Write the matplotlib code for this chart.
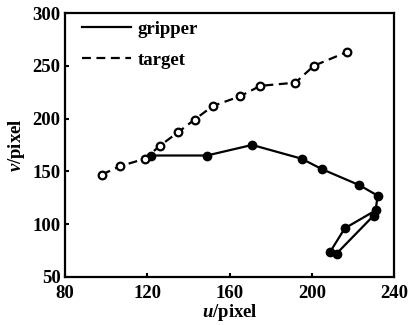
import numpy as np
from matplotlib import pyplot as plt
from matplotlib.lines import Line2D

# gripper trajectory (filled markers)
gripper_u = [122, 149, 171, 195, 205, 223, 232, 231, 216, 209, 212, 230]
gripper_v = [165, 165, 175, 162, 152, 137, 127, 113, 96, 74, 72, 108]

# target trajectory (open markers)
target_u = [98, 107, 119, 126, 135, 143, 152, 165, 175, 192, 201, 217]
target_v = [147, 155, 162, 174, 187, 199, 212, 221, 231, 234, 250, 263]

xticks = [80, 120, 160, 200, 240]
yticks = [50, 100, 150, 200, 250, 300]

plt.rcParams['font.family'] = ['Liberation Serif', 'DejaVu Serif']
plt.rcParams['mathtext.fontset'] = 'custom'
plt.rcParams['mathtext.it'] = 'Liberation Serif:italic:bold'

fig = plt.figure(figsize=(4.08, 3.25), dpi=100)
ax = fig.add_axes([0.159, 0.148, 0.807, 0.812])

ax.plot(gripper_u, gripper_v, '-', color='black', lw=1.6,
        marker='o', ms=6, mfc='black', mec='black')
ax.plot(target_u, target_v, '--', color='black', lw=1.6, dashes=(4, 2.5),
        marker='o', ms=5.5, mfc='white', mec='black', mew=1.6)

ax.set_xlim(80, 240)
ax.set_ylim(50, 300)
ax.set_xticks(xticks)
ax.set_yticks(yticks)
ax.tick_params(direction='in', length=3, width=1.5, labelsize=13.5)
ax.tick_params(axis='x', pad=6)
ax.tick_params(axis='y', pad=3)
for s in ax.spines.values():
    s.set_linewidth(1.6)
for lab in ax.get_xticklabels() + ax.get_yticklabels():
    lab.set_fontweight('bold')

ax.set_xlabel(r'$u$/pixel', fontsize=13.5, fontweight='bold', labelpad=0)
ax.set_ylabel(r'$v$/pixel', fontsize=13.5, fontweight='bold', labelpad=4)

handles = [Line2D([0], [0], color='black', lw=1.6, ls='-'),
           Line2D([0], [0], color='black', lw=1.6, ls=(0, (4, 2.5)))]
leg = ax.legend(handles, ['gripper', 'target'], loc='upper left', frameon=False,
                fontsize=13.5, handlelength=2.6, handletextpad=0.35,
                labelspacing=0.75, borderaxespad=0.0,
                bbox_to_anchor=(0.03, 1.0))
for t in leg.get_texts():
    t.set_fontweight('bold')

fig.savefig('out.png', dpi=100)
